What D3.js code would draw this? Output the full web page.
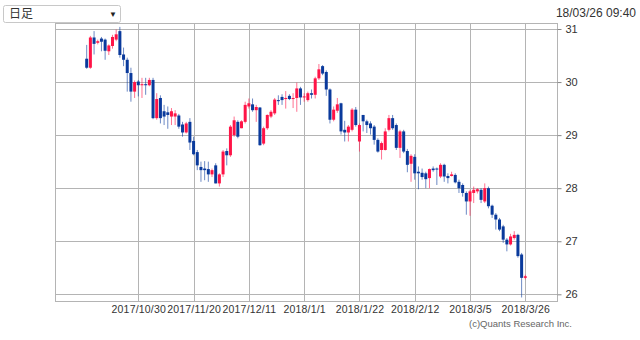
<!DOCTYPE html>
<html>
<head>
<meta charset="utf-8">
<script src="https://cdn.jsdelivr.net/npm/d3@7"></script>
<style>
  body { margin: 0; background: #fff; }
  text { font-family: "Liberation Sans", Arial, sans-serif; }
</style>
</head>
<body>
<script>
const openValues = [30.44, 30.27, 30.84, 30.74, 30.82, 30.80, 30.58, 30.68, 30.80, 30.96,
  30.52, 30.42, 30.17, 29.82, 30.01, 29.94, 29.96, 29.94, 30.04, 29.32,
  29.70, 29.45, 29.43, 29.35, 29.35, 29.37, 29.20, 29.05, 29.25, 28.89,
  28.68, 28.40, 28.37, 28.36, 28.26, 28.43, 28.09, 28.26, 28.70, 28.62,
  29.00, 29.25, 29.13, 29.25, 29.54, 29.58, 29.47, 29.52, 28.84, 29.13,
  29.35, 29.41, 29.66, 29.72, 29.68, 29.74, 29.68, 29.70, 29.88, 29.71,
  29.66, 29.79, 29.76, 30.07, 30.30, 30.19, 29.86, 29.29, 29.46, 29.60,
  29.10, 29.05, 29.10, 29.48, 28.88, 29.38, 29.26, 29.22, 29.16, 28.91,
  28.72, 28.72, 29.10, 29.32, 29.19, 28.76, 29.07, 28.70, 28.46, 28.59,
  28.31, 28.29, 28.28, 28.19, 28.37, 28.37, 28.22, 28.44, 28.23, 28.23,
  28.25, 28.12, 28.06, 27.91, 27.75, 27.91, 27.94, 27.97, 27.75, 28.00,
  27.67, 27.50, 27.41, 27.28, 27.03, 26.94, 27.06, 27.12, 26.75, 26.31]

const highValues = [30.70, 30.87, 30.96, 30.80, 30.85, 30.82, 30.71, 30.89, 30.99, 31.04,
  30.65, 30.46, 30.27, 30.03, 30.04, 30.08, 30.08, 30.08, 30.08, 29.79,
  29.75, 29.57, 29.54, 29.51, 29.47, 29.40, 29.25, 29.25, 29.32, 28.97,
  28.72, 28.50, 28.51, 28.50, 28.37, 28.47, 28.28, 28.72, 28.75, 29.19,
  29.35, 29.28, 29.28, 29.63, 29.69, 29.69, 29.57, 29.53, 29.16, 29.39,
  29.47, 29.70, 29.75, 29.77, 29.83, 29.77, 29.79, 29.99, 29.91, 29.79,
  29.82, 29.86, 30.10, 30.34, 30.32, 30.22, 29.88, 29.54, 29.70, 29.61,
  29.27, 29.19, 29.51, 29.53, 29.22, 29.38, 29.29, 29.26, 29.19, 28.94,
  28.88, 29.13, 29.38, 29.38, 29.22, 29.10, 29.10, 28.74, 28.64, 28.64,
  28.41, 28.37, 28.31, 28.37, 28.41, 28.39, 28.47, 28.46, 28.28, 28.31,
  28.28, 28.16, 28.09, 27.94, 27.97, 28.03, 28.00, 28.00, 28.09, 28.03,
  27.69, 27.53, 27.44, 27.31, 27.06, 27.14, 27.19, 27.14, 26.78, 26.37]

const lowValues = [30.25, 30.25, 30.52, 30.71, 30.58, 30.42, 30.51, 30.63, 30.77, 30.46,
  30.30, 29.82, 29.63, 29.70, 29.73, 29.70, 29.76, 29.92, 29.30, 29.29,
  29.22, 29.19, 29.12, 29.19, 29.19, 29.12, 28.97, 29.03, 28.72, 28.62,
  28.34, 28.12, 28.15, 28.12, 28.21, 28.09, 28.03, 28.21, 28.43, 28.59,
  28.97, 28.94, 29.13, 29.22, 29.50, 29.44, 29.25, 28.80, 28.81, 29.10,
  29.32, 29.38, 29.57, 29.57, 29.50, 29.66, 29.51, 29.44, 29.57, 29.63,
  29.63, 29.69, 29.69, 30.04, 30.13, 29.74, 29.22, 29.26, 29.42, 29.01,
  28.88, 28.88, 29.07, 29.16, 28.69, 29.07, 29.04, 29.01, 28.82, 28.67,
  28.54, 28.71, 29.07, 29.10, 28.72, 28.57, 28.66, 28.30, 28.12, 28.16,
  27.98, 28.16, 28.00, 28.00, 28.31, 28.06, 28.19, 28.12, 28.09, 28.22,
  28.09, 27.91, 27.84, 27.50, 27.48, 27.72, 27.90, 27.72, 27.72, 27.62,
  27.44, 27.22, 27.19, 26.97, 26.81, 26.92, 27.03, 26.69, 25.94, 26.28]

const closeValues = [30.27, 30.84, 30.72, 30.77, 30.76, 30.59, 30.69, 30.85, 30.90, 30.51,
  30.42, 30.17, 29.82, 30.00, 29.94, 29.96, 29.94, 30.04, 29.32, 29.68,
  29.32, 29.35, 29.38, 29.45, 29.41, 29.16, 29.05, 29.22, 28.86, 28.64,
  28.43, 28.34, 28.34, 28.26, 28.34, 28.09, 28.26, 28.69, 28.62, 29.16,
  29.28, 28.97, 29.26, 29.57, 29.60, 29.47, 29.53, 28.81, 29.13, 29.38,
  29.44, 29.67, 29.64, 29.66, 29.70, 29.68, 29.70, 29.88, 29.71, 29.73,
  29.79, 29.76, 30.07, 30.24, 30.16, 29.86, 29.29, 29.48, 29.58, 29.07,
  29.05, 29.16, 29.48, 29.19, 29.19, 29.26, 29.19, 29.13, 28.91, 28.69,
  28.85, 29.07, 29.32, 29.13, 28.76, 29.07, 28.69, 28.44, 28.61, 28.28,
  28.28, 28.21, 28.17, 28.36, 28.34, 28.36, 28.44, 28.22, 28.19, 28.26,
  28.11, 28.00, 27.91, 27.75, 27.94, 27.97, 27.98, 27.78, 28.00, 27.66,
  27.50, 27.41, 27.22, 27.03, 26.94, 27.09, 27.12, 26.72, 26.31, 26.34]

const xTickIndex = [14, 29, 44, 59, 74, 89, 104, 119]
const xTickLabels = ['2017/10/30', '2017/11/20', '2017/12/11', '2018/1/1', '2018/1/22', '2018/2/12', '2018/3/5', '2018/3/26']
const yTickValues = [26, 27, 28, 29, 30, 31]

const width = 640
const height = 340
const plotLeft = 55
const plotRight = 557
const plotTop = 23
const plotBottom = 301

const upColor = '#ff1447'
const downColor = '#0a3a9c'
const gridColor = '#b4b4b4'

const candles = openValues.map((o, i) => ({
    i: i,
    open: o,
    high: highValues[i],
    low: lowValues[i],
    close: closeValues[i]
}))

const svg = d3.select('body')
    .append('svg')
    .attr('width', width)
    .attr('height', height)

const xScale = d3.scaleLinear()
    .domain([-8.6, 127.6])
    .range([plotLeft, plotRight])

const yScale = d3.scaleLinear()
    .domain([26, 31])
    .range([294.3, 29])

// grid
svg.append('g')
    .selectAll('line')
    .data(yTickValues)
    .enter()
    .append('line')
    .attr('x1', plotLeft)
    .attr('x2', plotRight)
    .attr('y1', d => Math.round(yScale(d)) + 0.5)
    .attr('y2', d => Math.round(yScale(d)) + 0.5)
    .attr('stroke', gridColor)

svg.append('g')
    .selectAll('line')
    .data(xTickIndex)
    .enter()
    .append('line')
    .attr('x1', d => Math.round(xScale(d)) + 0.5)
    .attr('x2', d => Math.round(xScale(d)) + 0.5)
    .attr('y1', plotTop)
    .attr('y2', plotBottom)
    .attr('stroke', gridColor)

svg.append('rect')
    .attr('x', plotLeft + 0.5)
    .attr('y', plotTop + 0.5)
    .attr('width', plotRight - plotLeft)
    .attr('height', plotBottom - plotTop)
    .attr('fill', 'none')
    .attr('stroke', gridColor)

// right axis
const yAxis = d3.axisRight(yScale)
    .tickValues(yTickValues)
    .tickSize(4)
    .tickPadding(4)
    .tickFormat(d3.format('d'))

const yAxisGroup = svg.append('g')
    .attr('transform', `translate(${plotRight + 0.5}, 0)`)
    .call(yAxis)
yAxisGroup.select('.domain').remove()
yAxisGroup.selectAll('line').attr('stroke', '#888')
yAxisGroup.selectAll('text')
    .attr('fill', '#333')
    .style('font-size', '11px')

// bottom axis
const xAxis = d3.axisBottom(xScale)
    .tickValues(xTickIndex)
    .tickSize(0)
    .tickPadding(5)
    .tickFormat((d, i) => xTickLabels[i])

const xAxisGroup = svg.append('g')
    .attr('transform', `translate(0, ${plotBottom})`)
    .call(xAxis)
xAxisGroup.select('.domain').remove()
xAxisGroup.selectAll('text')
    .attr('fill', '#333')
    .style('font-size', '10.5px')
    .style('letter-spacing', '0.2px')

// candles
const candleGroup = svg.append('g')

candleGroup.selectAll('line')
    .data(candles)
    .enter()
    .append('line')
    .attr('x1', d => xScale(d.i))
    .attr('x2', d => xScale(d.i))
    .attr('y1', d => yScale(d.high))
    .attr('y2', d => yScale(d.low))
    .attr('stroke', d => d.close >= d.open ? upColor : downColor)
    .attr('stroke-opacity', 0.6)

candleGroup.selectAll('rect')
    .data(candles)
    .enter()
    .append('rect')
    .attr('x', d => xScale(d.i) - 1.5)
    .attr('y', d => yScale(Math.max(d.open, d.close)))
    .attr('width', 3)
    .attr('height', d => Math.max(1, Math.abs(yScale(d.open) - yScale(d.close))))
    .attr('fill', d => d.close >= d.open ? upColor : downColor)

// header
const selectBox = svg.append('g')
selectBox.append('rect')
    .attr('x', 3.5)
    .attr('y', 5.5)
    .attr('width', 117)
    .attr('height', 17)
    .attr('rx', 2)
    .attr('fill', '#fff')
    .attr('stroke', '#c8c8c8')
selectBox.append('text')
    .attr('x', 9)
    .attr('y', 18)
    .style('font-family', '"Noto Sans CJK JP", sans-serif')
    .style('font-size', '12px')
    .attr('fill', '#333')
    .text('日足')
selectBox.append('text')
    .attr('x', 109)
    .attr('y', 17)
    .style('font-size', '8px')
    .attr('fill', '#222')
    .text('▼')

svg.append('text')
    .attr('x', 636)
    .attr('y', 17)
    .attr('text-anchor', 'end')
    .style('font-size', '12px')
    .attr('fill', '#333')
    .text('18/03/26 09:40')

svg.append('text')
    .attr('x', 572)
    .attr('y', 327)
    .attr('text-anchor', 'end')
    .style('font-size', '9.5px')
    .attr('fill', '#666')
    .text('(c)Quants Research Inc.')
</script>
</body>
</html>
